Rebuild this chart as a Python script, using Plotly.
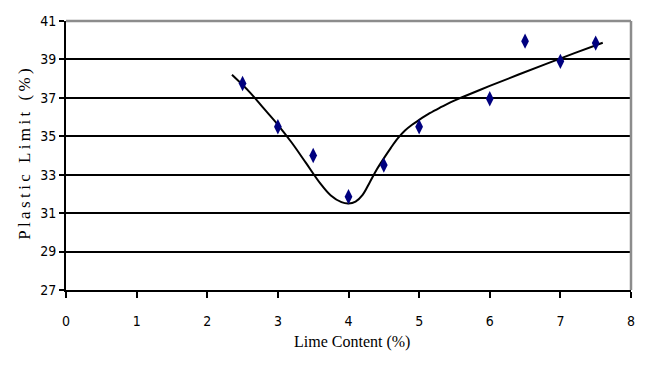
import plotly.graph_objects as go

# Measured points
lime = [2.5, 3.0, 3.5, 4.0, 4.5, 5.0, 6.0, 6.5, 7.0, 7.5]
plastic_limit = [37.75, 35.5, 34.0, 31.85, 33.5, 35.5, 36.95, 39.95, 38.9, 39.85]

# Trend curve
trend_x = [2.35, 2.6, 2.8, 3.0, 3.2, 3.4, 3.6, 3.75, 3.9, 4.0, 4.1, 4.2, 4.3, 4.4, 4.5, 4.6,
           4.7, 4.8, 4.9, 5.0, 5.15, 5.3, 5.45, 5.6, 6.0, 6.4, 6.8, 7.2, 7.6]
trend_y = [38.2, 37.3, 36.45, 35.6, 34.65, 33.6, 32.55, 31.92, 31.57, 31.5, 31.6, 31.95, 32.6, 33.27,
           33.85, 34.4, 34.9, 35.3, 35.6, 35.85, 36.2, 36.5, 36.78, 37.02, 37.62, 38.2, 38.77, 39.33, 39.87]

x_ticks = [0, 1, 2, 3, 4, 5, 6, 7, 8]
y_ticks = [27, 29, 31, 33, 35, 37, 39, 41]

fig = go.Figure()
fig.add_trace(go.Scatter(
    x=trend_x, y=trend_y, mode="lines",
    line=dict(color="black", width=2, shape="spline", smoothing=1.0),
    hoverinfo="skip", showlegend=False,
))
fig.add_trace(go.Scatter(
    x=lime, y=plastic_limit, mode="markers",
    marker=dict(symbol="diamond-tall", size=11, color="#00007f"),
    showlegend=False,
))

tick_font = dict(family="DejaVu Sans Condensed, Liberation Sans Narrow, Arial Narrow, sans-serif",
                 size=14, color="black")
serif = "Liberation Serif, Times New Roman, serif"

y_title = "\u2009".join("Plastic Limit (%)")

# The page body adds an 8px offset, so margins are set to compensate
fig.update_layout(
    width=646, height=377,
    margin=dict(l=58, r=23, t=13, b=95),
    paper_bgcolor="white", plot_bgcolor="white",
    xaxis=dict(
        range=[0, 8], tickvals=x_ticks, ticktext=[str(v) for v in x_ticks],
        showgrid=False, zeroline=False, automargin=False,
        showline=True, linecolor="black", linewidth=2,
        ticks="outside", ticklen=6, tickwidth=1.5, tickcolor="black",
        tickfont=tick_font, ticklabelstandoff=11,
    ),
    yaxis=dict(
        range=[27, 41], tickvals=y_ticks, ticktext=[str(v) for v in y_ticks],
        showgrid=True, gridcolor="black", gridwidth=1.5,
        zeroline=False, automargin=False,
        showline=True, linecolor="black", linewidth=2,
        ticks="outside", ticklen=5, tickwidth=1.5, tickcolor="black",
        tickfont=tick_font,
    ),
    shapes=[
        dict(type="line", xref="paper", yref="paper", x0=0, x1=1, y0=1, y1=1,
             line=dict(color="#8c8c8c", width=2.5), layer="above"),
        dict(type="line", xref="paper", yref="paper", x0=1, x1=1, y0=0, y1=1,
             line=dict(color="#8c8c8c", width=2.5), layer="above"),
    ],
    annotations=[
        dict(text=y_title, xref="paper", yref="paper", x=-0.0726, y=0.506,
             xanchor="center", yanchor="middle", textangle=-90, showarrow=False,
             font=dict(family=serif, size=17, color="black")),
        dict(text="Lime Content (%)", xref="paper", yref="paper", x=0.506, y=-0.193,
             xanchor="center", yanchor="middle", showarrow=False,
             font=dict(family=serif, size=16, color="black")),
    ],
)

fig.write_html("out.html")
